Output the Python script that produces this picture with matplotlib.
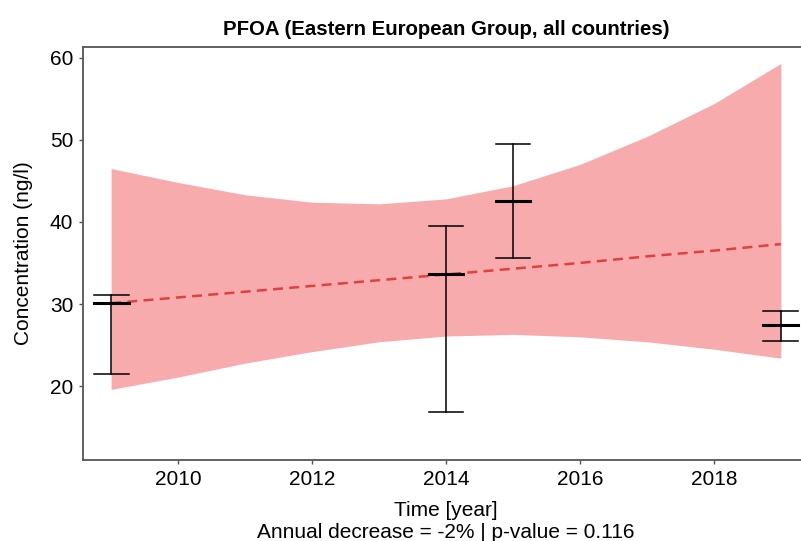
import numpy as np
import matplotlib.pyplot as plt

plt.rcParams['font.family'] = ['Liberation Sans', 'DejaVu Sans']

# 测量数据：年份、均值、误差棒上下限
years = [2009, 2014, 2015, 2019]
mean_vals = [30.1, 33.6, 42.6, 27.4]
upper_vals = [31.1, 39.5, 49.5, 29.2]
lower_vals = [21.5, 16.8, 35.6, 25.5]

# 趋势线和置信区间（按年读出）
band_years = [2009, 2010, 2011, 2012, 2013, 2014, 2015, 2016, 2017, 2018, 2019]
band_upper = [46.5, 44.8, 43.3, 42.4, 42.2, 42.8, 44.4, 47.0, 50.4, 54.4, 59.3]
band_lower = [19.6, 21.1, 22.8, 24.2, 25.4, 26.1, 26.3, 26.0, 25.4, 24.5, 23.4]
trend_vals = [30.1, 30.8, 31.5, 32.2, 32.9, 33.6, 34.3, 35.0, 35.8, 36.5, 37.3]

fig = plt.figure(figsize=(8.01, 5.41), dpi=100)
ax = fig.add_axes([0.1036, 0.1497, 0.9064, 0.7634])

# 置信带
ax.fill_between(band_years, band_lower, band_upper, color='#F8ABAC', lw=0, zorder=1)
# 趋势线（虚线）
ax.plot(band_years, trend_vals, color='#E0403F', lw=1.8, ls=(0, (4, 2.5)), zorder=2)

# 误差棒
cap = 0.26
for x, m, lo, hi in zip(years, mean_vals, lower_vals, upper_vals):
    ax.plot([x, x], [lo, hi], color='black', lw=1.1, zorder=3)
    ax.plot([x - cap, x + cap], [lo, lo], color='black', lw=1.1, zorder=3)
    ax.plot([x - cap, x + cap], [hi, hi], color='black', lw=1.1, zorder=3)
    ax.plot([x - cap, x + cap], [m, m], color='black', lw=2.2, zorder=3)

ax.set_xlim(2008.58, 2019.42)
ax.set_ylim(11.0, 61.3)
ax.set_xticks([2010, 2012, 2014, 2016, 2018])
ax.set_yticks([20, 30, 40, 50, 60])

for s in ax.spines.values():
    s.set_color('#555555')
    s.set_linewidth(1.3)
ax.tick_params(length=3, width=1, color='#555555', labelsize=15, labelcolor='black',
               pad=4)

ax.set_title('PFOA (Eastern European Group, all countries)', fontsize=14.7,
             fontweight='bold', pad=9)
ax.set_ylabel('Concentration (ng/l)', fontsize=15, labelpad=12)
ax.set_xlabel('Time [year]', fontsize=15, labelpad=9)
fig.text(0.557, 0.016, 'Annual decrease = -2% | p-value = 0.116', fontsize=15,
         ha='center', va='center')

fig.savefig('out.png', dpi=100)
